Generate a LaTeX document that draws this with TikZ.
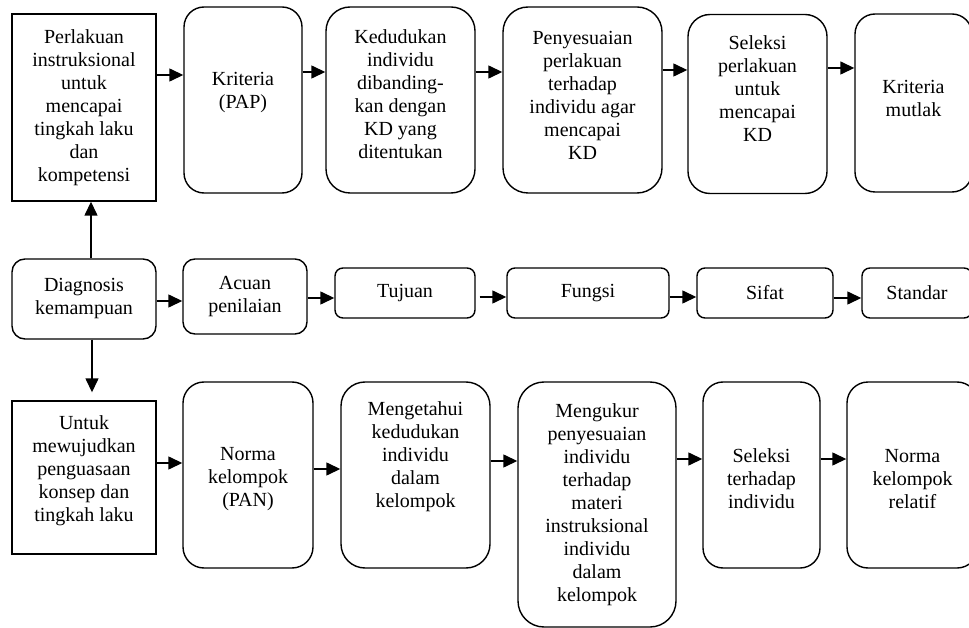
\documentclass[tikz,border=0pt]{standalone}
\usepackage{fontspec}
\setmainfont{Liberation Serif}
\usetikzlibrary{arrows.meta}
\tikzset{
  box/.style={draw, line width=1.4pt, rectangle, inner sep=0pt, align=center,
    font=\fontsize{20}{23}\selectfont},
  rbox/.style={box, rounded corners=#1},
  rbox/.default=20pt,
  txt/.style={align=center, inner sep=0pt, font=\fontsize{20}{23}\selectfont},
  arr/.style={line width=1.4pt, -{Triangle[length=14pt,width=13pt]}},
}
\begin{document}
\begin{tikzpicture}[x=1pt,y=-1pt]
\useasboundingbox (0,0) rectangle (969,628);
% top row
\node[box, minimum width=144pt, minimum height=187pt] (b1) at (84,107.5)
  {Perlakuan\\instruksional\\untuk\\mencapai\\tingkah laku\\dan\\kompetensi};
\node[rbox=20pt, minimum width=118pt, minimum height=186pt,
  label={[txt,yshift=7pt]center:{Kriteria\\(PAP)}}] (b2) at (243,100) {};
\node[rbox=24pt, minimum width=149pt, minimum height=186pt,
  label={[txt,yshift=6pt]center:{Kedudukan\\individu\\dibanding-\\kan dengan\\KD yang\\ditentukan}}] (b3) at (400.5,100) {};
\node[rbox=25pt, minimum width=159pt, minimum height=186pt,
  label={[txt,yshift=5pt]center:{Penyesuaian\\perlakuan\\terhadap\\individu agar\\mencapai\\KD}}] (b4) at (582.5,100) {};
\node[rbox=22pt, minimum width=139pt, minimum height=179pt,
  label={[txt,yshift=15pt]center:{Seleksi\\perlakuan\\untuk\\mencapai\\KD}}] (b5) at (757.5,104) {};
\node[rbox=20pt, minimum width=117pt, minimum height=178pt,
  label={[txt,yshift=5pt]center:{Kriteria\\mutlak}}] (b6) at (913.5,103) {};
% middle row
\node[rbox=13pt, minimum width=144pt, minimum height=80pt] (diag) at (84,299)
  {Diagnosis\\kemampuan};
\node[rbox=12pt, minimum width=124pt, minimum height=75pt] (acuan) at (245,296.5)
  {Acuan\\penilaian};
\node[rbox=8pt, minimum width=140pt, minimum height=50pt] (tujuan) at (405,293) {Tujuan};
\node[rbox=8pt, minimum width=162pt, minimum height=50pt] (fungsi) at (588,293) {Fungsi};
\node[rbox=8pt, minimum width=136pt, minimum height=50pt] (sifat) at (765,293) {Sifat};
\node[rbox=8pt, minimum width=110pt, minimum height=50pt] (standar) at (917,293) {Standar};
% bottom row
\node[box, minimum width=144pt, minimum height=153pt,
  label={[txt,yshift=7pt]center:{Untuk\\mewujudkan\\penguasaan\\konsep dan\\tingkah laku}}] (untuk) at (84,477.5) {};
\node[rbox=21pt, minimum width=130pt, minimum height=186pt,
  label={[txt,yshift=-4pt]center:{Norma\\kelompok\\(PAN)}}] (pan) at (248,475) {};
\node[rbox=24pt, minimum width=149pt, minimum height=186pt,
  label={[txt,yshift=18pt]center:{Mengetahui\\kedudukan\\individu\\dalam\\kelompok}}] (meng) at (415.5,475) {};
\node[rbox=26pt, minimum width=158pt, minimum height=245pt] (ukur) at (597,504.5)
  {Mengukur\\penyesuaian\\individu\\terhadap\\materi\\instruksional\\individu\\dalam\\kelompok};
\node[rbox=20pt, minimum width=117pt, minimum height=186pt,
  label={[txt,yshift=-4pt]center:{Seleksi\\terhadap\\individu}}] (selt) at (761.5,475) {};
\node[rbox=21pt, minimum width=131pt, minimum height=186pt,
  label={[txt,yshift=-4pt]center:{Norma\\kelompok\\relatif}}] (rel) at (912.5,475) {};
% connectors top
\draw[arr] (b1.east |- 0,75) -- (b2.west |- 0,75);
\draw[arr] (b2.east |- 0,72) -- (b3.west |- 0,72);
\draw[arr] (b3.east |- 0,72) -- (b4.west |- 0,72);
\draw[arr] (b4.east |- 0,70) -- (b5.west |- 0,70);
\draw[arr] (b5.east |- 0,68) -- (b6.west |- 0,68);
% vertical
\draw[arr] (diag.north -| 91,0) -- (b1.south -| 91,0);
\draw[arr, shorten >=8pt] (diag.south -| 92,0) -- (untuk.north -| 92,0);
% middle
\draw[arr] (diag.east |- 0,301) -- (acuan.west |- 0,301);
\draw[arr] (acuan.east |- 0,298) -- (tujuan.west |- 0,298);
\draw[arr, shorten <=4pt] (tujuan.east |- 0,297) -- (fungsi.west |- 0,297);
\draw[arr] (fungsi.east |- 0,297) -- (sifat.west |- 0,297);
\draw[arr] (sifat.east |- 0,298) -- (standar.west |- 0,298);
% bottom
\draw[arr] (untuk.east |- 0,463) -- (pan.west |- 0,463);
\draw[arr] (pan.east |- 0,469) -- (meng.west |- 0,469);
\draw[arr] (meng.east |- 0,461) -- (ukur.west |- 0,461);
\draw[arr] (ukur.east |- 0,459) -- (selt.west |- 0,459);
\draw[arr] (selt.east |- 0,459) -- (rel.west |- 0,459);
\end{tikzpicture}
\end{document}
